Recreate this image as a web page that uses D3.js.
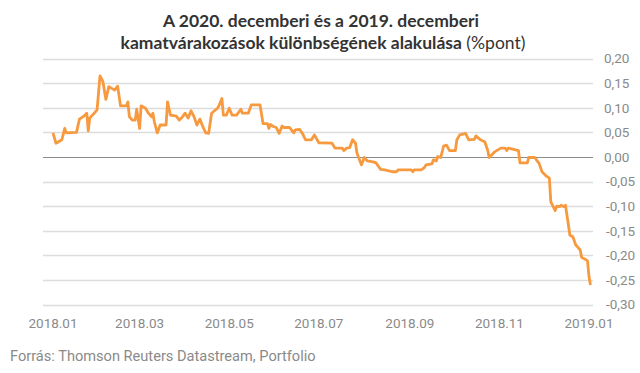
<!DOCTYPE html>
<html>
<head>
<meta charset="utf-8">
<script src="https://cdn.jsdelivr.net/npm/d3@7"></script>
<style>
  body { margin: 0; background: #fff; }
  svg { display: block; }
</style>
</head>
<body>
<div id="chart"></div>
<script>
const titleLines = ['A 2020. decemberi és a 2019. decemberi', 'kamatvárakozások különbségének alakulása'];
const titleUnit = ' (%pont)';
const sourceText = 'Forrás: Thomson Reuters Datastream, Portfolio';

const dates = [
  '2018-01-01', '2018-01-03', '2018-01-07', '2018-01-09', '2018-01-10', '2018-01-17', '2018-01-19', '2018-01-22',
  '2018-01-24', '2018-01-25', '2018-01-26', '2018-01-30', '2018-01-31', '2018-02-02', '2018-02-04', '2018-02-06',
  '2018-02-08', '2018-02-12', '2018-02-14', '2018-02-16', '2018-02-20', '2018-02-21', '2018-02-22', '2018-02-24',
  '2018-02-26', '2018-02-27', '2018-03-01', '2018-03-02', '2018-03-05', '2018-03-07', '2018-03-09', '2018-03-10',
  '2018-03-11', '2018-03-13', '2018-03-15', '2018-03-19', '2018-03-20', '2018-03-22', '2018-03-26', '2018-03-28',
  '2018-03-30', '2018-04-01', '2018-04-03', '2018-04-05', '2018-04-07', '2018-04-09', '2018-04-11', '2018-04-13',
  '2018-04-15', '2018-04-17', '2018-04-19', '2018-04-21', '2018-04-23', '2018-04-24', '2018-04-26', '2018-04-27',
  '2018-04-29', '2018-05-01', '2018-05-03', '2018-05-06', '2018-05-09', '2018-05-10', '2018-05-14', '2018-05-16',
  '2018-05-22', '2018-05-24', '2018-05-27', '2018-05-28', '2018-05-29', '2018-05-31', '2018-06-02', '2018-06-04',
  '2018-06-06', '2018-06-07', '2018-06-11', '2018-06-14', '2018-06-15', '2018-06-18', '2018-06-20', '2018-06-22',
  '2018-06-26', '2018-06-28', '2018-07-01', '2018-07-10', '2018-07-12', '2018-07-17', '2018-07-18', '2018-07-20',
  '2018-07-22', '2018-07-24', '2018-07-26', '2018-07-27', '2018-07-30', '2018-08-01', '2018-08-03', '2018-08-07',
  '2018-08-09', '2018-08-12', '2018-08-15', '2018-08-20', '2018-08-23', '2018-08-24', '2018-09-02', '2018-09-03',
  '2018-09-04', '2018-09-09', '2018-09-11', '2018-09-12', '2018-09-16', '2018-09-17', '2018-09-19', '2018-09-20',
  '2018-09-22', '2018-09-24', '2018-09-26', '2018-09-28', '2018-10-02', '2018-10-03', '2018-10-05', '2018-10-09',
  '2018-10-11', '2018-10-15', '2018-10-16', '2018-10-19', '2018-10-22', '2018-10-24', '2018-10-25', '2018-10-29',
  '2018-11-02', '2018-11-05', '2018-11-06', '2018-11-07', '2018-11-10', '2018-11-14', '2018-11-15', '2018-11-20',
  '2018-11-21', '2018-11-25', '2018-11-28', '2018-11-30', '2018-12-03', '2018-12-05', '2018-12-06', '2018-12-09',
  '2018-12-10', '2018-12-12', '2018-12-13', '2018-12-15', '2018-12-16', '2018-12-19', '2018-12-21', '2018-12-23',
  '2018-12-24', '2018-12-26', '2018-12-27', '2018-12-30', '2018-12-31', '2019-01-01', '2019-01-02'
];

const spread = [
  0.049, 0.028, 0.035, 0.058, 0.049, 0.050, 0.077, 0.083,
  0.089, 0.053, 0.079, 0.092, 0.096, 0.165, 0.153, 0.117,
  0.143, 0.136, 0.144, 0.104, 0.104, 0.112, 0.082, 0.075,
  0.075, 0.097, 0.058, 0.104, 0.099, 0.089, 0.082, 0.089,
  0.072, 0.049, 0.065, 0.065, 0.112, 0.085, 0.083, 0.075,
  0.081, 0.089, 0.079, 0.094, 0.082, 0.065, 0.077, 0.062,
  0.049, 0.048, 0.089, 0.094, 0.099, 0.104, 0.119, 0.085,
  0.085, 0.099, 0.085, 0.085, 0.097, 0.089, 0.089, 0.106,
  0.106, 0.068, 0.068, 0.058, 0.066, 0.062, 0.060, 0.048,
  0.063, 0.060, 0.060, 0.049, 0.055, 0.056, 0.047, 0.035,
  0.035, 0.045, 0.029, 0.028, 0.018, 0.018, 0.013, 0.018,
  0.019, 0.035, 0.028, 0.008, -0.016, -0.001, -0.008, -0.010,
  -0.012, -0.025, -0.026, -0.030, -0.030, -0.026, -0.026, -0.030,
  -0.026, -0.026, -0.021, -0.016, -0.014, -0.006, -0.008, 0.001,
  -0.001, 0.022, 0.024, 0.013, 0.013, 0.035, 0.045, 0.048,
  0.035, 0.036, 0.043, 0.035, 0.031, 0.014, -0.001, 0.011,
  0.018, 0.018, 0.013, 0.018, 0.016, 0.013, -0.012, -0.012,
  -0.001, -0.001, -0.013, -0.030, -0.039, -0.043, -0.091, -0.109,
  -0.100, -0.101, -0.098, -0.101, -0.098, -0.159, -0.162, -0.179,
  -0.182, -0.189, -0.204, -0.209, -0.211, -0.243, -0.260
];

const yTicks = [0.20, 0.15, 0.10, 0.05, 0.00, -0.05, -0.10, -0.15, -0.20, -0.25, -0.30];
const xTicks = ['2018-01-01', '2018-03-01', '2018-05-01', '2018-07-01', '2018-09-01', '2018-11-01', '2019-01-01'];

const width = 640;
const height = 373;
const parseDate = d3.timeParse('%Y-%m-%d');
const data = dates.map((d, i) => ({ date: parseDate(d), value: spread[i] }));

const svg = d3.select('#chart').append('svg')
  .attr('width', width)
  .attr('height', height);

const x = d3.scaleTime()
  .domain([parseDate('2018-01-01'), parseDate('2019-01-01')])
  .range([53, 589]);

const y = d3.scaleLinear()
  .domain([-0.30, 0.20])
  .range([304.6, 58.6]);

const fmt = v => d3.format('.2f')(v).replace('.', ',').replace('−', '-');

// gridlines
svg.append('g')
  .selectAll('line')
  .data(yTicks)
  .enter().append('line')
  .attr('x1', 43)
  .attr('x2', 593)
  .attr('y1', d => Math.round(y(d)) + 0.5)
  .attr('y2', d => Math.round(y(d)) + 0.5)
  .attr('stroke', d => (d === 0 ? '#8c8c8c' : '#dcdcdc'))
  .attr('stroke-width', d => (d === 0 ? 1.2 : 1.5));

// y labels
svg.append('g')
  .selectAll('text')
  .data(yTicks)
  .enter().append('text')
  .attr('x', d => (d < 0 ? 606 : 604))
  .attr('y', d => y(d))
  .attr('dy', '0.35em')
  .style('font-family', 'Roboto, sans-serif')
  .style('font-size', '13.5px')
  .style('fill', '#8a8a8a')
  .text(fmt);

// x labels
svg.append('g')
  .selectAll('text')
  .data(xTicks.map(parseDate))
  .enter().append('text')
  .attr('x', d => x(d))
  .attr('y', 328)
  .attr('text-anchor', 'middle')
  .style('font-family', 'Roboto, sans-serif')
  .style('font-size', '13.5px')
  .style('fill', '#8a8a8a')
  .text(d3.timeFormat('%Y.%m'));

// line
const line = d3.line()
  .x(d => x(d.date))
  .y(d => y(d.value));

svg.append('path')
  .datum(data)
  .attr('d', line)
  .attr('fill', 'none')
  .attr('stroke', '#f7993e')
  .attr('stroke-width', 2.8)
  .attr('stroke-linejoin', 'round');

// title
const title = svg.append('g')
  .style('font-family', 'Lato, sans-serif')
  .style('font-size', '17.5px')
  .style('fill', '#333');

title.append('text')
  .attr('x', 321)
  .attr('y', 27)
  .attr('text-anchor', 'middle')
  .style('font-weight', 700)
  .text(titleLines[0]);

const t2 = title.append('text')
  .attr('x', 323)
  .attr('y', 49)
  .attr('text-anchor', 'middle');
t2.append('tspan').style('font-weight', 700).text(titleLines[1]);
t2.append('tspan').style('font-weight', 400).text(titleUnit);

// source
svg.append('text')
  .attr('x', 10)
  .attr('y', 361)
  .style('font-family', 'Roboto, sans-serif')
  .style('font-size', '14.6px')
  .style('fill', '#8a8a8a')
  .text(sourceText);
</script>
</body>
</html>
